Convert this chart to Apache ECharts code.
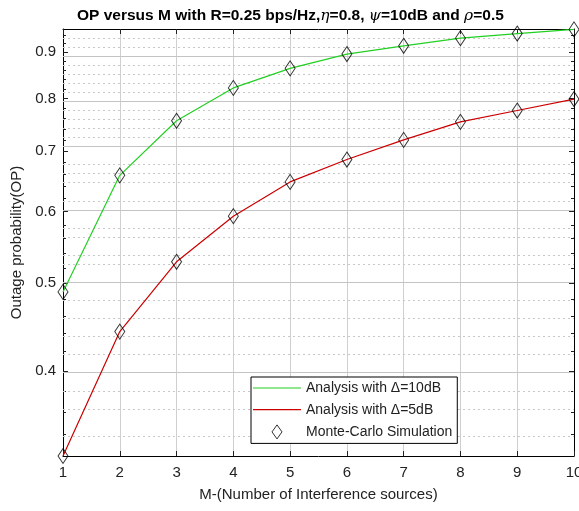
<!DOCTYPE html>
<html>
<head>
<meta charset="utf-8">
<script src="https://cdn.jsdelivr.net/npm/echarts@6/dist/echarts.min.js"></script>
<style>html,body{margin:0;padding:0;background:#fff}#c{width:579px;height:511px}</style>
</head>
<body>
<div id="c"></div>
<script>
const M = [1, 2, 3, 4, 5, 6, 7, 8, 9, 10];
const op10dB = [0.489, 0.658, 0.756, 0.822, 0.864, 0.896, 0.915, 0.933, 0.944, 0.954];
const op5dB = [0.322, 0.442, 0.528, 0.593, 0.647, 0.685, 0.720, 0.754, 0.776, 0.799];
const yMin = 0.322, yMax = 0.955;
const yMajorTicks = [0.4, 0.5, 0.6, 0.7, 0.8, 0.9];
const yMinorTicks = [0.34, 0.36, 0.38, 0.42, 0.44, 0.46, 0.48, 0.52, 0.54, 0.56, 0.58,
  0.62, 0.64, 0.66, 0.68, 0.72, 0.74, 0.76, 0.78, 0.82, 0.84, 0.86, 0.88, 0.92, 0.94];
const xTicks = [1, 2, 3, 4, 5, 6, 7, 8, 9, 10];
const names = ['Analysis with \u0394=10dB', 'Analysis with \u0394=5dB', 'Monte-Carlo Simulation'];

const L = v => Math.log10(v);
const FF = 'Liberation Sans, Arial, sans-serif';
const chart = echarts.init(document.getElementById('c'), null, {renderer: 'canvas'});

function yAx(pos, ticks, len, labels, line) {
  return {
    type: 'value', min: L(yMin), max: L(yMax), position: pos,
    axisLine: {show: line, onZero: false, lineStyle: {color: '#000', width: 1}},
    axisTick: {show: true, inside: true, length: len, customValues: ticks.map(L), lineStyle: {color: '#222'}},
    axisLabel: labels ? {show: true, customValues: ticks.map(L), formatter: v => Math.pow(10, v).toFixed(1),
      fontSize: 15, color: '#222', fontFamily: FF, margin: 7} : {show: false},
    splitLine: {show: false}
  };
}

const grid = [];
yMajorTicks.forEach(v => grid.push({yAxis: L(v), lineStyle: {color: '#c4c4c4', type: 'solid', width: 1}}));
yMinorTicks.forEach(v => grid.push({yAxis: L(v), lineStyle: {color: '#c8c8c8', type: [2, 3], width: 1}}));

const yl = Object.assign(yAx('left', yMajorTicks, 5, true, true), {
  name: 'Outage probability(OP)', nameLocation: 'middle', nameGap: 36,
  nameTextStyle: {fontSize: 15, color: '#222', fontFamily: FF}
});

const lineIcon = 'path://M0,0L48,0L48,1.2L0,1.2Z';

const option = {
  animation: false,
  backgroundColor: '#fff',
  title: {
    left: 72, top: 3,
    text: '{b|OP versus M with R=0.25 bps/Hz,}{i|\u03b7}{b|=0.8, }{i|\u03c8}{b|=10dB and }{i|\u03c1}{b|=0.5}',
    textStyle: {
      rich: {
        b: {fontFamily: FF, fontWeight: 'bold', fontSize: 15.5, color: '#000'},
        i: {fontFamily: 'DejaVu Serif, serif', fontStyle: 'italic', fontWeight: 'normal', fontSize: 15.5, color: '#000'}
      }
    }
  },
  grid: {left: 63, right: 5, top: 29, bottom: 55, outerBoundsMode: 'none', containLabel: false},
  xAxis: [
    {
      type: 'value', min: 1, max: 10, interval: 1, position: 'bottom',
      axisLine: {show: true, onZero: false, lineStyle: {color: '#000'}},
      axisTick: {inside: true, length: 5, lineStyle: {color: '#222'}},
      axisLabel: {fontSize: 15, color: '#222', fontFamily: FF, margin: 9},
      splitLine: {show: true, lineStyle: {color: '#cfcfcf', width: 1}},
      name: 'M-(Number of Interference sources)', nameLocation: 'middle', nameGap: 31,
      nameTextStyle: {fontSize: 15, color: '#222', fontFamily: FF}
    },
    {
      type: 'value', min: 1, max: 10, interval: 1, position: 'top',
      axisLine: {show: true, onZero: false, lineStyle: {color: '#000'}},
      axisTick: {inside: true, length: 5, lineStyle: {color: '#222'}},
      axisLabel: {show: false}, splitLine: {show: false}
    }
  ],
  yAxis: [
    yl,
    yAx('left', yMinorTicks, 3, false, false),
    yAx('right', yMajorTicks, 5, false, true),
    yAx('right', yMinorTicks, 3, false, false)
  ],
  legend: {
    orient: 'vertical', left: 251, top: 377,
    padding: [4, 5, 4, 2], itemGap: 7.7, itemWidth: 48, itemHeight: 14, itemTextGap: 5,
    backgroundColor: '#fff', borderColor: '#000', borderWidth: 1, borderRadius: 0,
    textStyle: {fontSize: 14, color: '#222', fontFamily: FF},
    data: [
      {name: names[0], icon: lineIcon},
      {name: names[1], icon: lineIcon},
      {name: names[2], icon: 'path://M5,0L10,7L5,14L0,7Z',
        itemStyle: {color: 'rgba(0,0,0,0)', borderColor: '#000', borderWidth: 1}}
    ]
  },
  series: [
    {
      type: 'line', data: [], silent: true, symbol: 'none',
      markLine: {silent: true, symbol: 'none', z: 1, label: {show: false}, emphasis: {disabled: true}, data: grid}
    },
    {
      name: names[0], type: 'line', symbol: 'none', z: 3,
      lineStyle: {color: '#22d022', width: 1.2}, itemStyle: {color: '#22d022'},
      data: M.map((m, i) => [m, L(op10dB[i])])
    },
    {
      name: names[1], type: 'line', symbol: 'none', z: 3,
      lineStyle: {color: '#cc0000', width: 1.2}, itemStyle: {color: '#cc0000'},
      data: M.map((m, i) => [m, L(op5dB[i])])
    },
    {
      name: names[2], type: 'scatter', symbol: 'diamond', symbolSize: [10, 15], clip: false, z: 4,
      itemStyle: {color: 'rgba(0,0,0,0)', borderColor: '#000', borderWidth: 1},
      data: M.map((m, i) => [m, L(op10dB[i])])
    },
    {
      name: names[2], type: 'scatter', symbol: 'diamond', symbolSize: [10, 15], clip: false, z: 4,
      itemStyle: {color: 'rgba(0,0,0,0)', borderColor: '#000', borderWidth: 1},
      data: M.map((m, i) => [m, L(op5dB[i])])
    }
  ]
};
chart.setOption(option);
</script>
</body>
</html>
